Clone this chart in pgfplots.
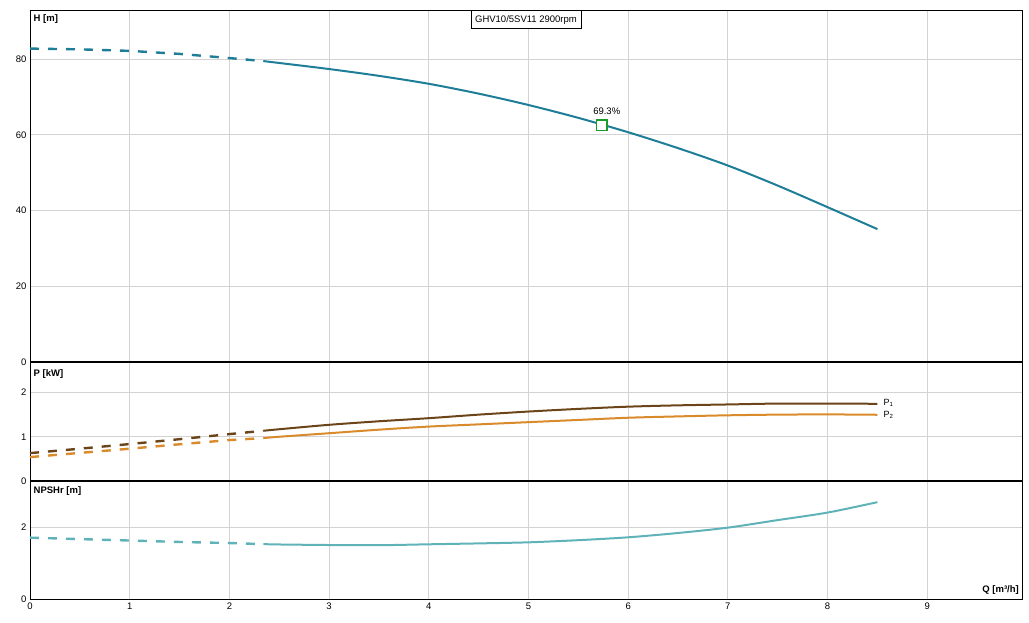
\documentclass[border=0pt]{standalone}
\usepackage{fontspec}
\setmainfont{Liberation Sans}
\usepackage{pgfplots}
\pgfplotsset{compat=1.18}
\definecolor{hcol}{HTML}{1E7E98}
\definecolor{pone}{HTML}{6B4519}
\definecolor{ptwo}{HTML}{D98A2B}
\definecolor{ncol}{HTML}{5FB3B8}
\definecolor{gridc}{HTML}{D3D3D3}
\definecolor{mk}{HTML}{1A9A2A}
\begin{document}
\begin{tikzpicture}
\path[use as bounding box] (0pt,0pt) rectangle (1029pt,623pt);
\pgfplotsset{panel/.style={scale only axis, width=992pt, xmin=0, xmax=9.95,
  xtick={0,...,9}, grid=major, major grid style={draw=gridc,line width=0.8pt},
  axis line style={line width=0.9pt}, major tick length=0pt,
  tick label style={font=\fontsize{9.5}{10}\selectfont},
  /pgf/number format/assume math mode=true, anchor=south west,
  dashedc/.style={line width=2.4pt, dash pattern=on 9pt off 9pt},
  solidc/.style={line width=2pt}}}
% H panel
\begin{axis}[panel, at={(30pt,261pt)}, height=352pt, ymin=0, ymax=93,
  ytick={0,20,40,60,80}, xticklabels={}]
\addplot[hcol, dashedc] coordinates {(0,82.8) (0.5,82.6) (1,82.2) (1.5,81.4) (2,80.3) (2.34,79.5)};
\addplot[hcol, solidc, smooth] coordinates {(2.34,79.5) (2.5,79.0) (3,77.4) (3.5,75.6) (4,73.5) (4.5,70.9) (5,67.9) (5.5,64.5) (6,60.7) (6.5,56.5) (7,51.9) (7.5,46.6) (8,40.9) (8.5,35.1)};
\addplot[only marks, mark=square*, mark size=5.3pt, mark options={draw=mk, fill=white, line width=1.6pt}] coordinates {(5.735,62.6)};
\node[font=\fontsize{9.5}{10}\selectfont, anchor=south] at (axis cs:5.785,64.5) {69.3\%};
\node[font=\bfseries\fontsize{9.5}{10}\selectfont, anchor=north west, inner sep=0pt] at ([xshift=3.5pt,yshift=-4pt]rel axis cs:0,1) {H [m]};
\node[draw, line width=0.8pt, fill=white, anchor=north, minimum width=110pt, minimum height=18.5pt, inner sep=0pt, font=\fontsize{9.5}{10}\selectfont] at (rel axis cs:0.5,1) {GHV10/5SV11 2900rpm};
\end{axis}
% P panel
\begin{axis}[panel, at={(30pt,142pt)}, height=119pt, ymin=0, ymax=2.69,
  ytick={0,1,2}, xticklabels={}]
\addplot[pone, dashedc] coordinates {(0,0.63) (0.5,0.73) (1,0.835) (1.5,0.945) (2,1.06) (2.34,1.135)};
\addplot[pone, solidc, smooth] coordinates {(2.34,1.135) (2.5,1.17) (3,1.27) (3.5,1.35) (4,1.42) (4.5,1.50) (5,1.57) (5.5,1.63) (6,1.68) (6.5,1.71) (7,1.73) (7.5,1.75) (8,1.75) (8.5,1.745)};
\addplot[ptwo, dashedc] coordinates {(0,0.54) (0.5,0.635) (1,0.73) (1.5,0.83) (2,0.925) (2.34,0.97)};
\addplot[ptwo, solidc, smooth] coordinates {(2.34,0.97) (2.5,1.0) (3,1.08) (3.5,1.16) (4,1.23) (4.5,1.28) (5,1.33) (5.5,1.38) (6,1.43) (6.5,1.46) (7,1.485) (7.5,1.50) (8,1.505) (8.5,1.497)};
\node[font=\fontsize{9}{9}\selectfont, anchor=west, inner sep=0pt] at (axis cs:8.56,1.76) {P\textsubscript{1}};
\node[font=\fontsize{9}{9}\selectfont, anchor=west, inner sep=0pt] at (axis cs:8.56,1.50) {P\textsubscript{2}};
\node[font=\bfseries\fontsize{9.5}{10}\selectfont, anchor=north west, inner sep=0pt] at ([xshift=3.5pt,yshift=-7pt]rel axis cs:0,1) {P [kW]};
\end{axis}
% NPSH panel
\begin{axis}[panel, at={(30pt,24pt)}, height=118pt, ymin=0, ymax=3.29,
  ytick={0,2}]
\addplot[ncol, dashedc] coordinates {(0,1.71) (0.5,1.67) (1,1.63) (1.5,1.59) (2,1.56) (2.34,1.53)};
\addplot[ncol, solidc, smooth] coordinates {(2.34,1.53) (2.5,1.52) (3,1.505) (3.5,1.50) (4,1.525) (4.5,1.55) (5,1.58) (5.5,1.64) (6,1.72) (6.5,1.84) (7,1.99) (7.5,2.20) (8,2.41) (8.5,2.70)};
\node[font=\bfseries\fontsize{9.5}{10}\selectfont, anchor=north west, inner sep=0pt] at ([xshift=3.5pt,yshift=-5pt]rel axis cs:0,1) {NPSHr [m]};
\node[font=\bfseries\fontsize{9.5}{10}\selectfont, anchor=south east, inner sep=0pt] at ([xshift=-3pt,yshift=4pt]rel axis cs:1,0) {Q [m³/h]};
\end{axis}
\draw[line width=2.2pt] (30pt,261pt) -- (1022pt,261pt);
\draw[line width=2.2pt] (30pt,142pt) -- (1022pt,142pt);
\end{tikzpicture}
\end{document}
